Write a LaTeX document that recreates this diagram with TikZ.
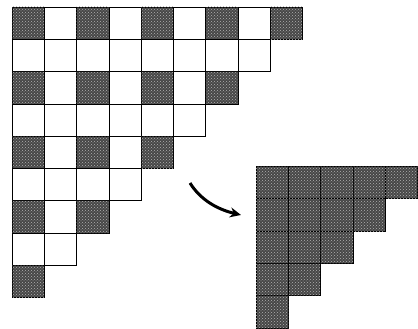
\documentclass[tikz,border=0pt]{standalone}
\usetikzlibrary{arrows.meta,patterns}
\begin{document}
\begin{tikzpicture}[x=1pt,y=-1pt,
  cellbox/.style={draw=black,line width=0.7pt},
  darkcell/.style={cellbox,fill=black!72},
  dotted texture/.style={pattern=crosshatch dots,pattern color=white!70!black},
  movearrow/.style={line width=3pt,-{Stealth[length=11pt,width=10pt]}}]
\useasboundingbox (0,0) rectangle (418,329);
\def\s{32.3}
% left staircase
\foreach \r in {0,...,8}{
  \pgfmathtruncatemacro{\n}{8-\r}
  \foreach \c in {0,...,\n}{
    \pgfmathtruncatemacro{\ev}{mod(\r,2)+mod(\c,2)}
    \ifnum\ev=0
      \draw[darkcell] ({12+\c*\s},{7+\r*\s}) rectangle ++(\s,\s);
      \fill[dotted texture] ({12+\c*\s},{7+\r*\s}) rectangle ++(\s,\s);
    \else
      \draw[cellbox] ({12+\c*\s},{7+\r*\s}) rectangle ++(\s,\s);
    \fi
  }
}
% right staircase
\foreach \r in {0,...,4}{
  \pgfmathtruncatemacro{\n}{4-\r}
  \foreach \c in {0,...,\n}{
    \draw[darkcell] ({256+\c*\s},{166.5+\r*\s}) rectangle ++(\s,\s);
    \fill[dotted texture] ({256+\c*\s},{166.5+\r*\s}) rectangle ++(\s,\s);
  }
}
\coordinate (arrowstart) at (190,183);
\coordinate (arrowend) at (241,215);
\draw[movearrow] (arrowstart) .. controls (200,199) and (216,209) .. (arrowend);
\end{tikzpicture}
\end{document}
